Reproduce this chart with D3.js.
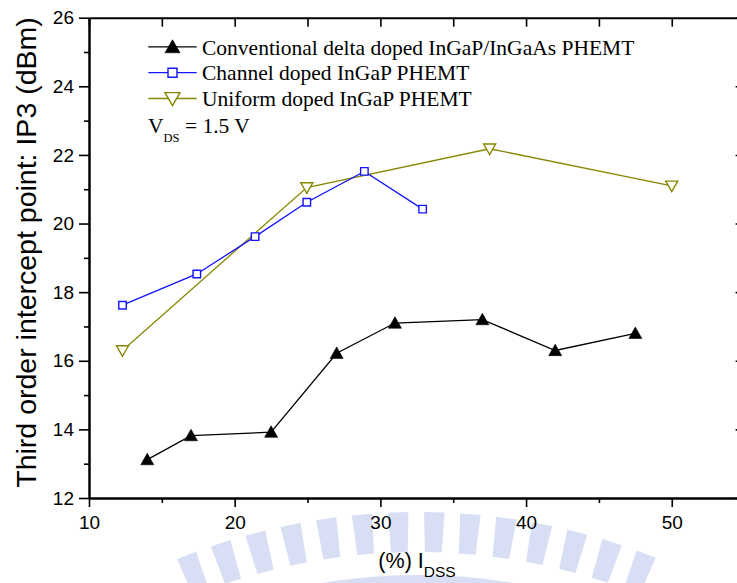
<!DOCTYPE html>
<html>
<head>
<meta charset="utf-8">
<script src="https://cdn.jsdelivr.net/npm/d3@7"></script>
<style>
  html, body { margin: 0; padding: 0; background: #fff; }
  svg { display: block; }
</style>
</head>
<body>
<svg id="chart" width="737" height="583"></svg>
<script>
// ---------------- data ----------------
const xTickValues = [10, 20, 30, 40, 50];
const xMinorValues = [15, 25, 35, 45, 55];
const yTickValues = [12, 14, 16, 18, 20, 22, 24, 26];
const yMinorValues = [13, 15, 17, 19, 21, 23, 25];

const conventionalX = [14, 17, 22.5, 27, 31, 37, 42, 47.5];
const conventionalY = [13.12, 13.82, 13.92, 16.22, 17.1, 17.2, 16.3, 16.8];

const channelX = [12.3, 17.4, 21.4, 24.95, 28.9, 32.9];
const channelY = [17.62, 18.53, 19.62, 20.62, 21.52, 20.42];

const uniformX = [12.3, 24.95, 37.5, 50];
const uniformY = [16.3, 21.05, 22.18, 21.1];

const seriesNames = [
  "Conventional delta doped InGaP/InGaAs PHEMT",
  "Channel doped InGaP PHEMT",
  "Uniform doped InGaP PHEMT"
];

// ---------------- layout ----------------
const svg = d3.select("#chart");
const x = d3.scaleLinear().domain([10, 55]).range([89, 744.6]);
const y = d3.scaleLinear().domain([12, 26]).range([498, 17.7]);

// ---------------- watermark (background logo) ----------------
const wm = svg.append("g").attr("fill", "#d4dcf5").attr("opacity", 0.9);
const wcx = 418, wcy = 1152, rOut = 640, rIn = 600;
for (let a = -0.37; a <= 0.371; a += 0.0565) {
  const a0 = a - 0.016, a1 = a + 0.016;
  const p = (r, ang) => [wcx + r * Math.sin(ang), wcy - r * Math.cos(ang)];
  const pts = [p(rIn, a0 + 0.002), p(rOut, a0), p(rOut, a1), p(rIn, a1 - 0.002)];
  wm.append("path").attr("d", "M" + pts.map(q => q.join(",")).join("L") + "Z");
}
wm.append("path")
  .attr("d", d3.arc()({innerRadius: 520, outerRadius: 577, startAngle: -0.42, endAngle: 0.42}))
  .attr("transform", `translate(${wcx},${wcy})`);

// ---------------- axes ----------------
const fontAxis = "'Liberation Sans', Arial, sans-serif";
function styleAxis(g) {
  g.selectAll("path.domain").attr("stroke", "#000").attr("stroke-width", 2);
  g.selectAll(".tick line").attr("stroke", "#000").attr("stroke-width", 1.6);
  g.selectAll("text").attr("font-family", fontAxis).attr("font-size", 19).attr("fill", "#000");
}

// bottom major
svg.append("g").attr("transform", `translate(0,${y(12)})`)
  .call(d3.axisBottom(x).tickValues(xTickValues).tickSize(9).tickSizeOuter(0).tickPadding(9).tickFormat(d3.format("d")))
  .call(styleAxis);
// bottom minor
svg.append("g").attr("transform", `translate(0,${y(12)})`)
  .call(d3.axisBottom(x).tickValues(xMinorValues).tickSize(5).tickSizeOuter(0).tickFormat(""))
  .call(styleAxis);
// top (ticks inward)
svg.append("g").attr("transform", `translate(0,${y(26)})`)
  .call(d3.axisBottom(x).tickValues(xTickValues.concat(xMinorValues)).tickSize(9).tickSizeOuter(0).tickFormat(""))
  .call(styleAxis);
// left major
svg.append("g").attr("transform", `translate(${x(10)},0)`)
  .call(d3.axisLeft(y).tickValues(yTickValues).tickSize(10).tickSizeOuter(0).tickPadding(5).tickFormat(d3.format("d")))
  .call(styleAxis);
// left minor
svg.append("g").attr("transform", `translate(${x(10)},0)`)
  .call(d3.axisLeft(y).tickValues(yMinorValues).tickSize(5).tickSizeOuter(0).tickFormat(""))
  .call(styleAxis);
// right (ticks inward)
svg.append("g").attr("transform", `translate(${x(55)},0)`)
  .call(d3.axisLeft(y).tickValues(yTickValues).tickSize(9).tickSizeOuter(0).tickFormat(""))
  .call(styleAxis);
svg.append("g").attr("transform", `translate(${x(55)},0)`)
  .call(d3.axisLeft(y).tickValues(yMinorValues).tickSize(5).tickSizeOuter(0).tickFormat(""))
  .call(styleAxis);

// axis titles
svg.append("text")
  .attr("transform", `translate(35.5,252.5) rotate(-90)`)
  .attr("text-anchor", "middle")
  .attr("font-family", fontAxis).attr("font-size", 28.5).attr("fill", "#000")
  .text("Third order intercept point: IP3 (dBm)");

const xt = svg.append("text")
  .attr("x", 417).attr("y", 568)
  .attr("text-anchor", "middle")
  .attr("font-family", fontAxis).attr("font-size", 21.5).attr("fill", "#000");
xt.append("tspan").text("(%) I");
xt.append("tspan").attr("font-size", 15.5).attr("dy", 9).text("DSS");

// ---------------- markers ----------------
function triUp(w, h) { return `M0,${-h * 0.55}L${w / 2},${h * 0.45}L${-w / 2},${h * 0.45}Z`; }
function triDown(w, h) { return `M0,${h * 0.55}L${w / 2},${-h * 0.45}L${-w / 2},${-h * 0.45}Z`; }
function square(s) { return `M${-s / 2},${-s / 2}h${s}v${s}h${-s}Z`; }

const series = [
  {xs: conventionalX, ys: conventionalY, color: "#000000", marker: "up"},
  {xs: channelX, ys: channelY, color: "#1414ff", marker: "square"},
  {xs: uniformX, ys: uniformY, color: "#878700", marker: "down"}
];

const line = d3.line().x(d => x(d[0])).y(d => y(d[1]));

function drawMarker(g, type, color, big) {
  if (type === "up") {
    g.append("path").attr("d", big ? triUp(15, 13) : triUp(13, 11.5))
      .attr("fill", "#000").attr("stroke", "#000").attr("stroke-width", 0.6);
  } else if (type === "square") {
    g.append("path").attr("d", square(big ? 9 : 7.5))
      .attr("fill", "#fff").attr("stroke", color).attr("stroke-width", 1.4);
  } else {
    g.append("path").attr("d", big ? triDown(15, 13) : triDown(12, 10.5))
      .attr("fill", "#fff").attr("stroke", color).attr("stroke-width", 1.4);
  }
}

series.slice().reverse().forEach(s => {
  const pts = s.xs.map((v, i) => [v, s.ys[i]]);
  svg.append("path").datum(pts)
    .attr("d", line).attr("fill", "none")
    .attr("stroke", s.color).attr("stroke-width", 1.3);
  pts.forEach(p => {
    const g = svg.append("g").attr("transform", `translate(${x(p[0])},${y(p[1])})`);
    drawMarker(g, s.marker, s.color, false);
  });
});

// ---------------- legend ----------------
const fontLegend = "'Liberation Serif', 'Times New Roman', serif";
const legendBaselines = [54.5, 80.3, 106.1];
series.forEach((s, i) => {
  const ly = legendBaselines[i] - 7.6;
  svg.append("line").attr("x1", 148.3).attr("x2", 196.7).attr("y1", ly).attr("y2", ly)
    .attr("stroke", s.color).attr("stroke-width", 1.3);
  const g = svg.append("g").attr("transform", `translate(172.5,${ly})`);
  drawMarker(g, s.marker, s.color, true);
  svg.append("text").attr("x", 202).attr("y", legendBaselines[i])
    .attr("font-family", fontLegend).attr("font-size", 21.5).attr("fill", "#000")
    .text(seriesNames[i]);
});
const vt = svg.append("text").attr("x", 148).attr("y", 133.3)
  .attr("font-family", fontLegend).attr("font-size", 21.5).attr("fill", "#000");
vt.append("tspan").text("V");
vt.append("tspan").attr("font-size", 12.5).attr("dy", 8.4).text("DS");
vt.append("tspan").attr("dy", -8.4).text(" = 1.5 V");
</script>
</body>
</html>
